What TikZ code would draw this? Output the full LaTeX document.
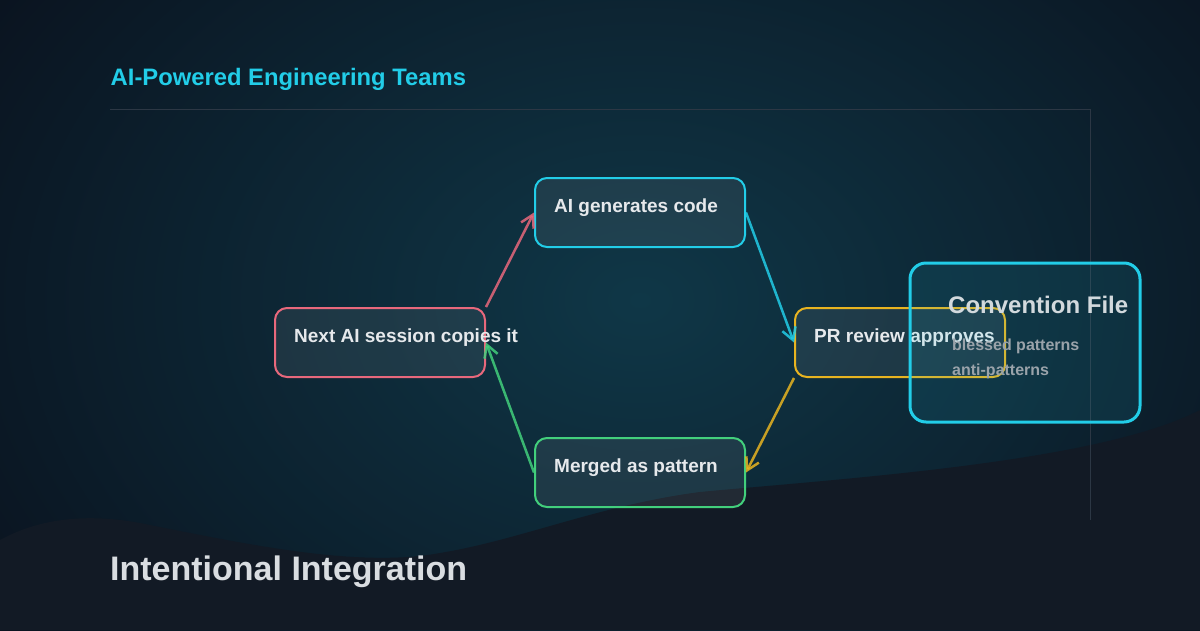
\documentclass[tikz,border=0pt]{standalone}
\usepackage{fontspec}
\setmainfont{Liberation Sans}
\usetikzlibrary{arrows.meta,calc}
\definecolor{bgdark}{HTML}{0A111D}
\definecolor{glow}{HTML}{0F3747}
\definecolor{wavec}{HTML}{121A25}
\definecolor{framec}{HTML}{2C3744}
\definecolor{cyanc}{HTML}{22CDE8}
\definecolor{yellowc}{HTML}{E8B420}
\definecolor{greenc}{HTML}{42CF7C}
\definecolor{pinkc}{HTML}{E8687C}
\definecolor{nodetext}{HTML}{E6E9EC}
\definecolor{convtext}{HTML}{D2D9DD}
\definecolor{subtext}{HTML}{9AA3AA}
\definecolor{bottomtext}{HTML}{D9DDE1}
\tikzset{
  stepbox/.style={draw, rounded corners=12pt, minimum width=210pt, minimum height=69pt,
    inner sep=0pt, fill=white, fill opacity=0.07, draw opacity=1, line width=2pt},
  steptext/.style={anchor=base west, inner sep=0pt, text=nodetext,
    font=\bfseries\fontsize{19}{22}\selectfont},
  arr/.style={line width=2.5pt, draw opacity=0.85, -{Straight Barb[angle=60:14pt]}},
  convbox/.style={draw=cyanc, line width=3pt, rounded corners=16pt, minimum width=230pt,
    minimum height=159pt, inner sep=0pt, fill=cyanc, fill opacity=0.1, draw opacity=1},
  convtitle/.style={anchor=base west, inner sep=0pt, text=convtext,
    font=\bfseries\fontsize{24}{28}\selectfont},
  convsub/.style={anchor=base west, inner sep=0pt, text=subtext,
    font=\bfseries\fontsize{16}{19}\selectfont},
}
\begin{document}
\begin{tikzpicture}[x=1pt,y=-1pt]
\useasboundingbox (0,0) rectangle (1200,630);
% background
\fill[bgdark] (0,0) rectangle (1200,630);
\begin{scope}
  \clip (0,0) rectangle (1200,630);
  \shade[inner color=glow, outer color=bgdark] (640,300) ellipse (820pt and 600pt);
  % wave
  \fill[wavec] (0,540) .. controls (40,518) and (90,512) .. (150,525)
    .. controls (250,545) and (360,568) .. (440,553)
    .. controls (520,540) and (600,505) .. (700,492)
    .. controls (850,478) and (1100,462) .. (1200,410)
    -- (1200,630) -- (0,630) -- cycle;
\end{scope}
% frame lines
\coordinate (f1) at (110,109);
\coordinate (f2) at (1090,109);
\coordinate (f3) at (1090,520);
\draw[framec, line width=1pt] (f1) -- (f2) -- (f3);
% title
\node[anchor=base west, inner sep=0pt, text=cyanc, font=\bfseries\fontsize{23.8}{28}\selectfont]
  (title) at (110.5,85) {AI-Powered Engineering Teams};
% step boxes
\node[stepbox, draw=cyanc] (gen) at (640,212.5) {};
\node[stepbox, draw=yellowc] (pr) at (900,342.5) {};
\node[stepbox, draw=greenc] (merge) at (640,472.5) {};
\node[stepbox, draw=pinkc] (next) at (380,342.5) {};
\node[steptext] (gent) at ($(gen.west)+(20,0)$) {AI generates code};
\node[steptext] (prt) at ($(pr.west)+(20,0)$) {PR review approves};
\node[steptext] (merget) at ($(merge.west)+(20,0)$) {Merged as pattern};
\node[steptext] (nextt) at ($(next.west)+(20,0)$) {Next AI session copies it};
% arrows
\draw[arr, pinkc] (next.north east) -- (gen.west);
\draw[arr, cyanc] (gen.east) -- (pr.west);
\draw[arr, yellowc] (pr.south west) -- (merge.east);
\draw[arr, greenc] (merge.west) -- (next.east);
% convention file
\node[convbox] (conv) at (1025,342.5) {};
\node[convtitle] (convt) at (948,313) {Convention File};
\node[convsub] (conv1) at (952,350) {blessed patterns};
\node[convsub] (conv2) at (952,375.5) {anti-patterns};
% bottom title
\node[anchor=base west, inner sep=0pt, text=bottomtext, font=\bfseries\fontsize{34}{40}\selectfont]
  (bottom) at (110,580) {Intentional Integration};
\end{tikzpicture}
\end{document}
